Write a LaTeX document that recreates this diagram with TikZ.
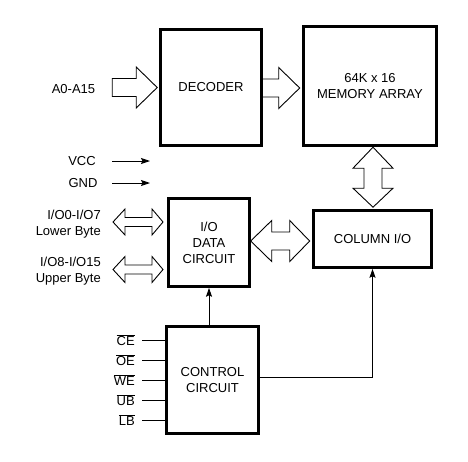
\documentclass[tikz,border=0pt]{standalone}
\usepackage{fontspec}
\setmainfont{Liberation Sans}
\usetikzlibrary{arrows.meta,positioning}
\tikzset{>={Stealth[length=9pt,width=6pt,inset=1.5pt]},
  txt/.style={font=\fontsize{13}{16}\selectfont, align=center, inner sep=0pt},
  blk/.style={txt, draw, line width=2.6pt},
  fat/.style={draw, line width=0.9pt, line join=miter},
  sig/.style={line width=0.9pt}}

\begin{document}
\begin{tikzpicture}[x=1pt,y=-1pt,line cap=butt]
  \useasboundingbox (0,0) rectangle (468,461);

  % blocks
  \node [blk, minimum width=101pt, minimum height=116pt] (dec) at (211,87.5) {DECODER};
  \node [blk, minimum width=133pt, minimum height=119pt] (mem) at (370,86) {64K x 16\\MEMORY ARRAY};
  \node [blk, minimum width=81pt, minimum height=88pt] (io) at (209,242.5) {I/O\\DATA\\CIRCUIT};
  \node [blk, minimum width=118pt, minimum height=57pt] (col) at (372.5,239) {COLUMN I/O};
  \node [blk, minimum width=92pt, minimum height=107pt] (ctl) at (212.5,380) {CONTROL\\CIRCUIT};

  % address and supply
  \node [txt] (addr) at (73.5,89) {A0-A15};
  \node [txt] (vcc) at (82,161) {VCC};
  \node [txt] (gnd) at (83,183) {GND};
  \coordinate (vccA) at (112,161);
  \coordinate (gndA) at (112,183);
  \draw [sig,->] (vccA) -- ++(38,0);
  \draw [sig,->] (gndA) -- ++(38,0);

  % wide buses
  \draw [fat] (dec.west) ++(-2,0) -- ++(-21,-20.5) -- ++(0,11.5) -- ++(-24,0)
    -- ++(0,18) -- ++(24,0) -- ++(0,11.5) -- cycle;
  \draw [fat] (mem.west) ++(-2.5,2) -- ++(-21,-20.5) -- ++(0,11.5) -- ++(-17,0)
    -- ++(0,18) -- ++(17,0) -- ++(0,11.5) -- cycle;
  \draw [fat] (col.north) ++(0.5,-2) -- ++(-20,-19) -- ++(11,0) -- ++(0,-20)
    -- ++(-11,0) -- ++(20,-21) -- ++(20,21) -- ++(-11,0) -- ++(0,20)
    -- ++(11,0) -- cycle;
  \draw [fat] (col.west) ++(-2.5,2) -- ++(-20,-20.5) -- ++(0,11.5) -- ++(-18,0)
    -- ++(0,-11.5) -- ++(-21,20.5) -- ++(21,20.5) -- ++(0,-11.5) -- ++(18,0)
    -- ++(0,11.5) -- cycle;

  % data bytes
  \node [txt, align=right, anchor=east] (lob) at (101,224) {I/O0-I/O7\\Lower Byte};
  \node [txt, align=right, anchor=east] (upb) at (101,271.5) {I/O8-I/O15\\Upper Byte};
  \coordinate (loA) at (163,222);
  \coordinate (upA) at (163,269.5);
  \foreach \p in {loA,upA}
    \draw [fat] (\p) -- ++(-11,-13) -- ++(0,8.5) -- ++(-27,0) -- ++(0,-8.5)
      -- ++(-12,13) -- ++(12,13) -- ++(0,-8.5) -- ++(27,0) -- ++(0,8.5) -- cycle;

  % control inputs
  \foreach \nm/\yy in {CE/340,OE/360,WE/380,UB/400,LB/420} {
    \node [txt, anchor=east] (s\nm) at (135,\yy) {$\overline{\hbox{\nm}}$};
    \coordinate (p\nm) at (142,\yy);
    \draw [sig] (p\nm) -- (p\nm -| ctl.west);
  }

  \draw [sig,->] (ctl.north -| io.south) -- (io.south);
  \draw [sig,->] ([yshift=3pt]ctl.east) -| (col.south);

\end{tikzpicture}
\end{document}
